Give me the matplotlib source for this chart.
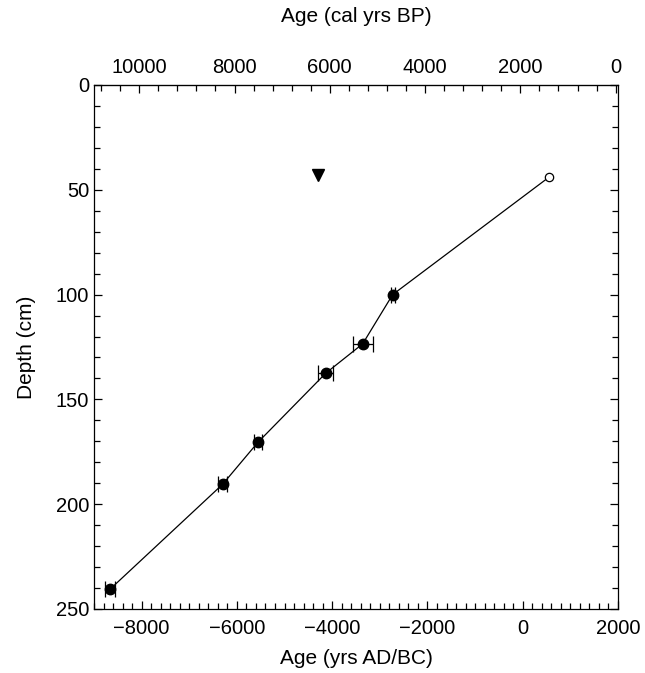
import matplotlib
matplotlib.use('Agg')
import matplotlib.pyplot as plt
from matplotlib.ticker import MultipleLocator

plt.rcParams['font.family'] = ['Liberation Sans', 'DejaVu Sans']
plt.rcParams['font.size'] = 14.5

# dated levels (age in yrs AD/BC, depth in cm, 1-sigma age error)
age = [-8660, -6300, -5560, -4135, -3360, -2730]
depth = [240.5, 190.5, 170.5, 137.5, 123.5, 100]
age_err = [110, 95, 90, 155, 210, 40]

# surface / top point (open circle)
top_age = [550]
top_depth = [44]

# rejected date (triangle)
rej_age = [-4290]
rej_depth = [43]

fig = plt.figure(figsize=(6.45, 6.73), dpi=100)
ax = fig.add_axes([94 / 645, 1 - 609 / 673, 524 / 645, 524 / 673])

# connecting line through all dated levels
ax.plot(age + top_age, depth + top_depth, color='black', lw=0.9, zorder=2)

ax.errorbar(age, depth, xerr=age_err, fmt='o', color='black', ms=7.5,
            ecolor='black', elinewidth=0.9, capsize=6, capthick=0.9, zorder=3)
ax.plot(top_age, top_depth, 'o', mfc='white', mec='black', mew=0.9, ms=6, zorder=3)
ax.plot(rej_age, rej_depth, 'v', color='black', ms=8.5, zorder=3)

ax.set_xlim(-9000, 2000)
ax.set_ylim(250, 0)
ax.xaxis.set_major_locator(MultipleLocator(2000))
ax.xaxis.set_minor_locator(MultipleLocator(200))
ax.yaxis.set_major_locator(MultipleLocator(50))
ax.yaxis.set_minor_locator(MultipleLocator(10))
ax.tick_params(which='both', direction='in', top=False, right=True, labelsize=14.5)
ax.tick_params(which='major', length=6, width=0.9)
ax.tick_params(which='minor', length=4.5, width=0.9)
ax.tick_params(axis='x', pad=7)
ax.set_xlabel('Age (yrs AD/BC)', fontsize=15, labelpad=8)
ax.set_ylabel('Depth (cm)', fontsize=15, labelpad=14)

# calibrated BP scale on top (BP = 1950 - AD)
sec = ax.secondary_xaxis('top', functions=(lambda x: 1950 - x, lambda x: 1950 - x))
sec.set_xticks([10000, 8000, 6000, 4000, 2000, 0])
sec.xaxis.set_minor_locator(MultipleLocator(400))
sec.tick_params(which='both', direction='in', labelsize=14.5, pad=6)
sec.tick_params(which='major', length=6, width=0.9)
sec.tick_params(which='minor', length=4.5, width=0.9)
sec.set_xlabel('Age (cal yrs BP)', fontsize=15, labelpad=26)

for s in ax.spines.values():
    s.set_linewidth(0.9)

fig.savefig('out.png', dpi=100)
